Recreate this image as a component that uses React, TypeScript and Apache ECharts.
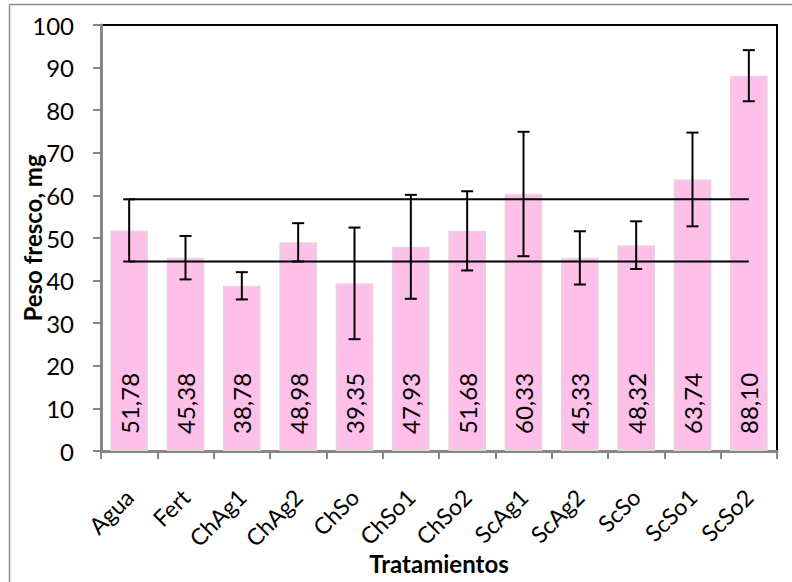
import React, { useEffect, useRef } from "react";
import * as echarts from "echarts";

const categories = ["Agua", "Fert", "ChAg1", "ChAg2", "ChSo", "ChSo1", "ChSo2", "ScAg1", "ScAg2", "ScSo", "ScSo1", "ScSo2"];
const values = [51.78, 45.38, 38.78, 48.98, 39.35, 47.93, 51.68, 60.33, 45.33, 48.32, 63.74, 88.10];
const errors = [7.3, 5.1, 3.2, 4.5, 13.1, 12.2, 9.3, 14.6, 6.25, 5.6, 11.0, 6.0];
const refLines = [59.08, 44.48];
const yTicks = { min: 0, max: 100, interval: 10 };

const FONT = "Lato, 'Open Sans', sans-serif";

export default function App() {
  const ref = useRef<HTMLDivElement>(null);
  useEffect(() => {
    document.body.style.margin = "0";
    const chart = echarts.init(ref.current!, null, { renderer: "svg" });
    const errData = values.map((v, i) => [i, v - errors[i], v + errors[i]]);
    const refSeries = refLines.map((y) => ({
      type: "line",
      data: categories.map((_, i) => (i === 0 || i === categories.length - 1 ? y : null)),
      connectNulls: true,
      symbol: "none",
      lineStyle: { color: "#000", width: 2 },
      z: 5,
    }));
    chart.setOption({
      animation: false,
      textStyle: { fontFamily: FONT },
      graphic: [
        { type: "line", shape: { x1: 9.5, y1: 4.5, x2: 792, y2: 4.5 }, style: { stroke: "#8c8c8c", lineWidth: 1.5 } },
        { type: "line", shape: { x1: 9.5, y1: 4.5, x2: 9.5, y2: 582 }, style: { stroke: "#8c8c8c", lineWidth: 1.5 } },
      ],
      grid: { left: 101, right: 15, top: 25, bottom: 131, show: true, borderColor: "#000", borderWidth: 2, backgroundColor: "transparent" },
      xAxis: {
        type: "category",
        data: categories,
        name: "Tratamientos",
        nameLocation: "middle",
        nameGap: 100,
        nameMoveOverlap: false,
        nameTextStyle: { fontFamily: FONT, fontWeight: "bold", fontSize: 24, color: "#000" },
        axisLine: { lineStyle: { color: "#868686", width: 3 } },
        axisTick: { show: true, length: 8, lineStyle: { color: "#868686", width: 2 } },
        axisLabel: { rotate: 45, fontSize: 23, color: "#000", margin: 42, fontFamily: FONT },
      },
      yAxis: {
        type: "value",
        min: yTicks.min,
        max: yTicks.max,
        interval: yTicks.interval,
        name: "Peso fresco, mg",
        nameLocation: "middle",
        nameGap: 57,
        nameMoveOverlap: false,
        nameTextStyle: { fontFamily: FONT, fontWeight: "bold", fontSize: 24, color: "#000" },
        splitLine: { show: false },
        axisLine: { show: true, lineStyle: { color: "#868686", width: 3 } },
        axisTick: { show: true, length: 8, lineStyle: { color: "#868686", width: 2 } },
        axisLabel: { fontSize: 24, color: "#000", margin: 27, fontFamily: FONT },
      },
      series: [
        {
          type: "bar",
          data: values,
          barWidth: "67%",
          itemStyle: { color: "#FEBFE9", borderColor: "#e4d6de", borderWidth: 1.5 },
          label: {
            show: true,
            position: "insideBottom",
            rotate: 90,
            align: "left",
            verticalAlign: "middle",
            distance: 17,
            fontSize: 24,
            color: "#000",
            fontFamily: FONT,
            formatter: (p: any) => values[p.dataIndex].toFixed(2).replace(".", ","),
          },
          z: 2,
        },
        ...refSeries,
        {
          type: "custom",
          data: errData,
          z: 10,
          renderItem: (params: any, api: any) => {
            const x = api.value(0);
            const lo = api.coord([x, api.value(1)]);
            const hi = api.coord([x, api.value(2)]);
            const hw = 6;
            const style = { stroke: "#000", lineWidth: 2 };
            return {
              type: "group",
              children: [
                { type: "line", shape: { x1: lo[0], y1: lo[1], x2: hi[0], y2: hi[1] }, style },
                { type: "line", shape: { x1: hi[0] - hw, y1: hi[1], x2: hi[0] + hw, y2: hi[1] }, style },
                { type: "line", shape: { x1: lo[0] - hw, y1: lo[1], x2: lo[0] + hw, y2: lo[1] }, style },
              ],
            };
          },
        },
      ],
    });
    return () => chart.dispose();
  }, []);
  return <div ref={ref} style={{ width: 792, height: 582 }} />;
}
